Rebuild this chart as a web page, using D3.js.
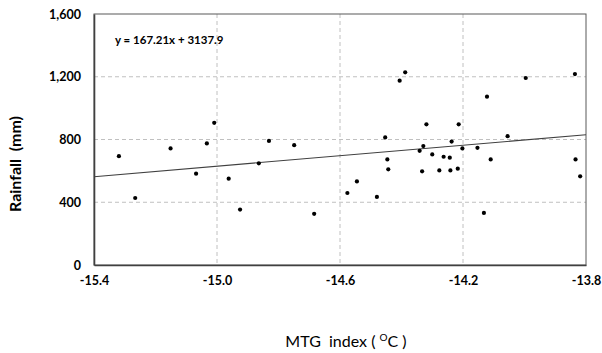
<!DOCTYPE html>
<html>
<head>
<meta charset="utf-8">
<script src="https://cdn.jsdelivr.net/npm/d3@7/dist/d3.min.js"></script>
<style>
  body { margin: 0; background: #fff; }
  svg text { font-family: Lato, "Open Sans", sans-serif; }
</style>
</head>
<body>
<svg id="chart" width="602" height="353"></svg>
<script>
// MTG index (deg C) and rainfall (mm)
var mtg = [-15.319, -15.266, -15.151, -15.068, -15.033, -15.009, -14.962, -14.925, -14.864, -14.831,
           -14.749, -14.684, -14.576, -14.545, -14.480, -14.453, -14.446, -14.443, -14.406, -14.388,
           -14.341, -14.329, -14.333, -14.319, -14.300, -14.277, -14.263, -14.243, -14.241, -14.237,
           -14.217, -14.214, -14.202, -14.153, -14.132, -14.122, -14.110, -14.055, -13.996, -13.836,
           -13.834, -13.819];
var rainfall = [694, 427, 743, 582, 775, 906, 550, 353, 648, 791,
                764, 326, 459, 533, 434, 813, 673, 610, 1175, 1228,
                728, 758, 597, 897, 705, 603, 690, 684, 603, 787,
                614, 897, 743, 747, 332, 1073, 673, 821, 1192, 1217,
                673, 565];
var xTicks = [-15.4, -15.0, -14.6, -14.2, -13.8];
var yTicks = [0, 400, 800, 1200, 1600];
// trend line from the fitted equation
var slope = 167.21, intercept = 3137.9;
var trendX = [-15.4, -13.8];

var svg = d3.select("#chart");
var pLeft = 94, pRight = 586, pTop = 14, pBottom = 265;

var x = d3.scaleLinear().domain([-15.4, -13.8]).range([pLeft, pRight]);
var y = d3.scaleLinear().domain([0, 1600]).range([pBottom, pTop]);

// grid lines
svg.append("g").selectAll("line").data(yTicks.slice(1, -1)).join("line")
    .attr("x1", pLeft).attr("x2", pRight)
    .attr("y1", d => y(d)).attr("y2", d => y(d))
    .attr("stroke", "#c0c0c0").attr("stroke-dasharray", "4,3");
svg.append("g").selectAll("line").data(xTicks.slice(1, -1)).join("line")
    .attr("y1", pTop).attr("y2", pBottom)
    .attr("x1", d => x(d)).attr("x2", d => x(d))
    .attr("stroke", "#c0c0c0").attr("stroke-dasharray", "4,3");

// frame
svg.append("rect")
    .attr("x", pLeft).attr("y", pTop)
    .attr("width", pRight - pLeft).attr("height", pBottom - pTop)
    .attr("fill", "none").attr("stroke", "#595959").attr("stroke-width", 1);

// axes
var xAxis = d3.axisBottom(x).tickValues(xTicks).tickSize(0).tickPadding(11)
    .tickFormat(d => d3.format(".1f")(d).replace("\u2212", "-"));
var yAxis = d3.axisLeft(y).tickValues(yTicks).tickSize(0).tickPadding(13)
    .tickFormat(d3.format(","));

var gx = svg.append("g").attr("transform", "translate(0," + pBottom + ")").call(xAxis);
var gy = svg.append("g").attr("transform", "translate(" + pLeft + ",0)").call(yAxis);
[gx, gy].forEach(function(g) {
    g.select(".domain").attr("stroke", "#404040").attr("stroke-width", 1.6);
    g.selectAll("text").attr("font-size", 12.5).attr("font-weight", "bold").attr("fill", "#000")
        .style("font-family", "Lato, sans-serif");
});

// trend line
svg.append("line")
    .attr("x1", x(trendX[0])).attr("y1", y(slope * trendX[0] + intercept))
    .attr("x2", x(trendX[1])).attr("y2", y(slope * trendX[1] + intercept))
    .attr("stroke", "#404040").attr("stroke-width", 1.1);

// points
svg.append("g").selectAll("circle").data(mtg).join("circle")
    .attr("cx", d => x(d))
    .attr("cy", (d, i) => y(rainfall[i]))
    .attr("r", 2.1)
    .attr("fill", "#000");

// equation
svg.append("text")
    .attr("x", 115).attr("y", 44)
    .attr("font-size", 11.5).attr("font-weight", "bold")
    .text("y = 167.21x + 3137.9");

// axis titles
svg.append("text")
    .attr("transform", "translate(21,164) rotate(-90)")
    .attr("text-anchor", "middle")
    .attr("font-size", 16).attr("font-weight", "bold")
    .attr("xml:space", "preserve")
    .text("Rainfall  (mm)");

var xt = svg.append("text")
    .attr("x", 346).attr("y", 347)
    .attr("text-anchor", "middle")
    .attr("font-size", 16)
    .attr("xml:space", "preserve");
xt.append("tspan").text("MTG  index ( ");
xt.append("tspan").attr("font-size", 10).attr("dy", -6).text("O");
xt.append("tspan").attr("dy", 6).text("C )");
</script>
</body>
</html>
